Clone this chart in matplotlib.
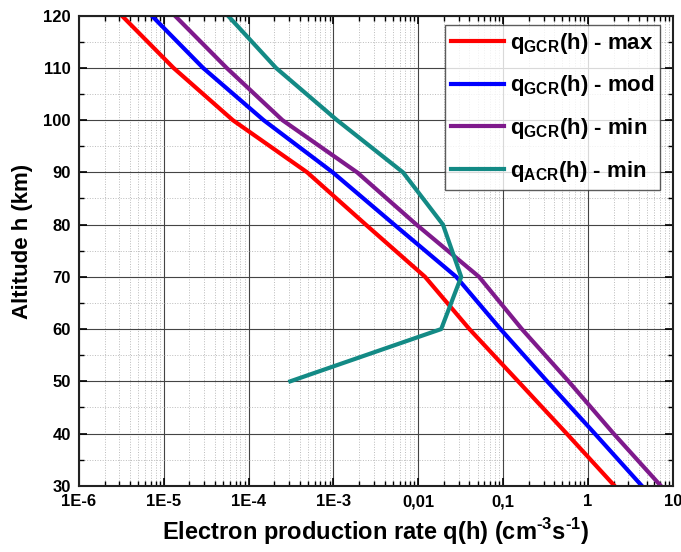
import numpy as np
import matplotlib.pyplot as plt
from matplotlib.ticker import LogLocator, MultipleLocator, FixedFormatter, FixedLocator

plt.rcParams['font.family'] = ['Liberation Sans', 'DejaVu Sans']
plt.rcParams['font.weight'] = 'bold'
plt.rcParams['xtick.labelsize'] = 12
plt.rcParams['ytick.labelsize'] = 12
plt.rcParams['mathtext.fontset'] = 'custom'
plt.rcParams['mathtext.rm'] = 'Liberation Sans:bold'
plt.rcParams['mathtext.bf'] = 'Liberation Sans:bold'

# altitude grid (km)
alt = [120, 110, 100, 90, 80, 70, 60, 50, 40, 30]

# electron production rates (cm^-3 s^-1)
q_gcr_max = [3.2e-6, 1.3e-5, 6.5e-5, 4.9e-4, 2.4e-3, 0.012, 0.040, 0.15, 0.56, 2.05]
q_gcr_mod = [7.2e-6, 2.9e-5, 1.5e-4, 9.8e-4, 5.2e-3, 0.028, 0.093, 0.33, 1.2, 4.3]
q_gcr_min = [1.35e-5, 5.5e-5, 2.5e-4, 1.9e-3, 9.5e-3, 0.052, 0.166, 0.59, 2.0, 7.2]

alt_acr = [120, 110, 100, 90, 80, 70, 60, 50]
q_acr_min = [5.7e-5, 2.1e-4, 1.1e-3, 6.6e-3, 0.0195, 0.032, 0.0186, 3.1e-4]

xtick_vals = [1e-6, 1e-5, 1e-4, 1e-3, 1e-2, 1e-1, 1, 10]
xtick_labels = ['1E-6', '1E-5', '1E-4', '1E-3', '0,01', '0,1', '1', '10']

fig = plt.figure(figsize=(6.81, 5.52), dpi=100)
ax = fig.add_axes([0.116, 0.12, 0.872, 0.8516])

lw = 3
ax.plot(q_gcr_max, alt, color='#ff0000', lw=lw, label=r'q$_{\rm GCR}$(h) - max')
ax.plot(q_gcr_mod, alt, color='#0000ff', lw=lw, label=r'q$_{\rm GCR}$(h) - mod')
ax.plot(q_gcr_min, alt, color='#7f1a8c', lw=lw, label=r'q$_{\rm GCR}$(h) - min')
ax.plot(q_acr_min, alt_acr, color='#138a85', lw=lw, label=r'q$_{\rm ACR}$(h) - min')

ax.set_xscale('log')
ax.set_xlim(1e-6, 10)
ax.set_ylim(30, 120)

ax.xaxis.set_major_locator(FixedLocator(xtick_vals))
ax.xaxis.set_major_formatter(FixedFormatter(xtick_labels))
ax.xaxis.set_minor_locator(LogLocator(base=10, subs=np.arange(2, 10), numticks=20))
ax.yaxis.set_major_locator(MultipleLocator(10))
ax.yaxis.set_minor_locator(MultipleLocator(5))

ax.grid(which='major', color='#444444', lw=0.8, ls='-')
ax.grid(which='minor', color='#bbbbbb', lw=0.7, ls=':')
ax.set_axisbelow(True)

ax.tick_params(which='both', direction='in', top=True, right=True)
ax.tick_params(axis='both', which='major', length=6, width=1.2, pad=6, labelsize=12)
ax.tick_params(which='minor', length=3.5, width=1)
for sp in ax.spines.values():
    sp.set_linewidth(1.5)
    sp.set_color('#222222')

ax.set_xlabel('Electron production rate q(h) (cm$^{\\rm \u20103}$s$^{\\rm \u20101}$)',
              fontsize=17, fontweight='bold', labelpad=5)
ax.set_ylabel('Altitude h (km)', fontsize=16, fontweight='bold')
ax.yaxis.set_label_coords(-0.077, 0.519)

leg = ax.legend(loc='upper right', bbox_to_anchor=(0.978, 0.98), fontsize=16,
                frameon=True, fancybox=False, edgecolor='#333333',
                handlelength=2.4, handletextpad=0.25, borderpad=0.25,
                labelspacing=0.8, borderaxespad=0.0)
leg.get_frame().set_linewidth(1.0)

fig.savefig('out.png', dpi=100)
